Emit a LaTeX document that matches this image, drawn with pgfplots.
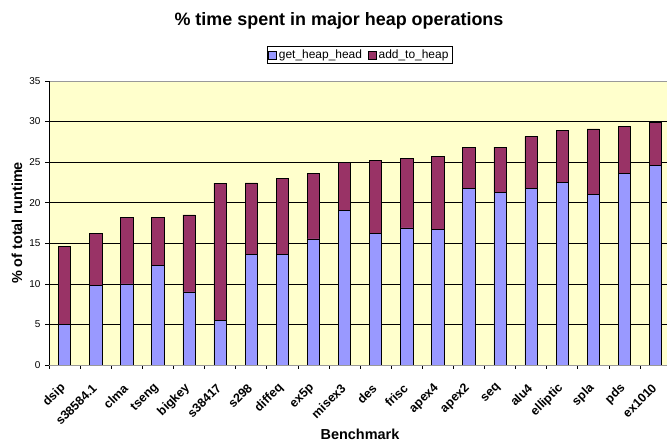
\documentclass[border=0pt]{standalone}
\usepackage{pgfplots}
\pgfplotsset{compat=1.18}
\usepackage{pgfplotstable}
\usepackage{fontspec}
\setmainfont{Liberation Sans}
\definecolor{barblue}{HTML}{9999FF}
\definecolor{barred}{HTML}{993366}
\definecolor{bgyellow}{HTML}{FFFFCC}
\pgfplotstableread{
x get add
0 5.0 9.6
1 9.8 6.4
2 10.0 8.2
3 12.3 5.9
4 9.0 9.5
5 5.5 16.9
6 13.6 8.85
7 13.6 9.4
8 15.55 8.05
9 19.1 5.85
10 16.2 9.0
11 16.9 8.55
12 16.7 9.0
13 21.8 5.0
14 21.3 5.55
15 21.8 6.35
16 22.5 6.4
17 21.0 8.1
18 23.6 5.8
19 24.6 5.3
}\datatable
\begin{document}
\begin{tikzpicture}[x=1bp,y=1bp]
\useasboundingbox (0,0) rectangle (667,443);
\node[font=\fontsize{18}{20}\selectfont\bfseries] at (339,422) {\% time spent in major heap operations};
\begin{axis}[
  at={(49bp,78bp)}, anchor=south west,
  scale only axis, width=622bp, height=284bp,
  ybar stacked, bar width=12.3bp,
  xmin=-0.5, xmax=19.5, ymin=0, ymax=35,
  ytick={0,5,...,35},
  xtick={0,...,19},
  xticklabels={dsip,s38584.1,clma,tseng,bigkey,s38417,s298,diffeq,ex5p,misex3,des,frisc,apex4,apex2,seq,alu4,elliptic,spla,pds,ex1010},
  minor xtick={-0.5,0.5,...,19.5},
  major x tick style={draw=none},
  tick align=outside,
  major tick length=4bp, minor tick length=4bp,
  xtick pos=bottom, ytick pos=left,
  tick style={black, line width=0.6bp},
  ymajorgrids, grid style={black, line width=0.6bp},
  axis line style={gray!80, line width=0.6bp},
  axis background/.style={fill=bgyellow},
  /pgf/number format/assume math mode=true,
  yticklabel style={font=\fontsize{10}{12}\selectfont, xshift=-1bp},
  xticklabel style={font=\fontsize{12.5}{14}\selectfont\bfseries, yshift=-17bp, xshift=-1bp, rotate=45, anchor=east, inner sep=0bp},
  xlabel={Benchmark}, ylabel={\% of total runtime},
  xlabel style={font=\fontsize{14.5}{16}\selectfont\bfseries, at={(axis description cs:0.5,-0.243)}, anchor=center},
  ylabel style={font=\fontsize{14.5}{16}\selectfont\bfseries, at={(axis description cs:-0.0514,0.5)}, anchor=center, rotate=0},
  legend columns=2,
  legend style={at={(0.499,1.092)}, anchor=center, draw=black, line width=0.6bp, font=\fontsize{12}{14}\selectfont, inner sep=1.5bp, /tikz/every even column/.append style={column sep=4bp}},
  legend image code/.code={\draw[#1, line width=0.6bp] (0bp,-4bp) rectangle (8bp,4bp);},
]
\addplot[fill=barblue, draw=black, line width=0.6bp] table[x=x, y=get] {\datatable};
\addplot[fill=barred, draw=black, line width=0.6bp] table[x=x, y=add] {\datatable};
\legend{get\_heap\_head, add\_to\_heap}
\draw[black, line width=0.6bp] (rel axis cs:0,0) -- (rel axis cs:0,1);
\draw[black, line width=0.6bp] (rel axis cs:0,0) -- (rel axis cs:1,0);
\end{axis}
\end{tikzpicture}
\end{document}
